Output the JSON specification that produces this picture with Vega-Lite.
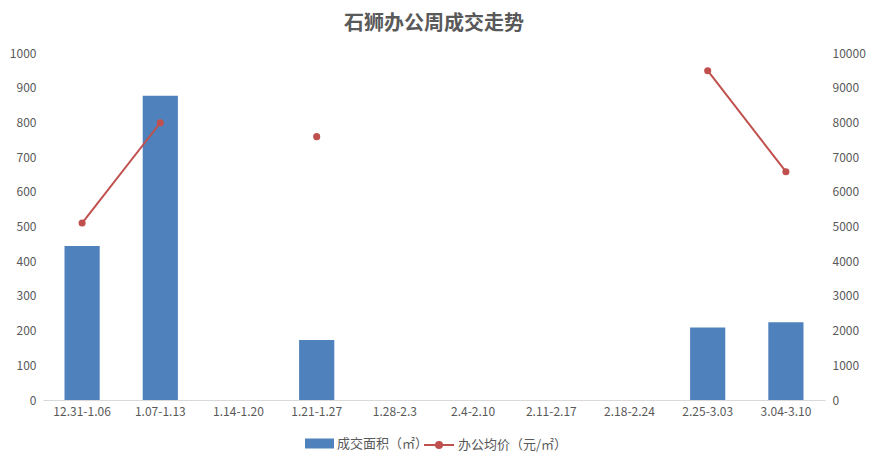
{
  "$schema": "https://vega.github.io/schema/vega-lite/v6.json",
  "width": 782,
  "height": 347,
  "autosize": "none",
  "padding": {"left": 43, "top": 53, "right": 51, "bottom": 67},
  "background": "white",
  "title": {
    "text": "石狮办公周成交走势",
    "font": "Noto Sans CJK SC",
    "fontSize": 20,
    "fontWeight": "bold",
    "color": "#595959",
    "anchor": "middle",
    "offset": 13
  },
  "config": {
    "view": {"stroke": null},
    "font": "Noto Sans CJK SC",
    "axis": {
      "labelFont": "Noto Sans CJK SC",
      "labelFontSize": 12,
      "labelColor": "#595959",
      "grid": false,
      "ticks": false,
      "title": null
    },
    "legend": {
      "labelFont": "Noto Sans CJK SC",
      "labelFontSize": 13,
      "labelColor": "#595959",
      "title": null,
      "labelOffset": 3
    }
  },
  "data": {
    "values": [
      {"week": "12.31-1.06", "area": 444, "price": 5100, "seg": "a"},
      {"week": "1.07-1.13", "area": 877, "price": 7990, "seg": "a"},
      {"week": "1.14-1.20", "area": null, "price": null, "seg": null},
      {"week": "1.21-1.27", "area": 173, "price": 7590, "seg": "b"},
      {"week": "1.28-2.3", "area": null, "price": null, "seg": null},
      {"week": "2.4-2.10", "area": null, "price": null, "seg": null},
      {"week": "2.11-2.17", "area": null, "price": null, "seg": null},
      {"week": "2.18-2.24", "area": null, "price": null, "seg": null},
      {"week": "2.25-3.03", "area": 209, "price": 9490, "seg": "c"},
      {"week": "3.04-3.10", "area": 224, "price": 6580, "seg": "c"}
    ]
  },
  "encoding": {
    "x": {
      "field": "week",
      "type": "nominal",
      "sort": null,
      "scale": {
        "domain": ["12.31-1.06", "1.07-1.13", "1.14-1.20", "1.21-1.27", "1.28-2.3", "2.4-2.10", "2.11-2.17", "2.18-2.24", "2.25-3.03", "3.04-3.10"],
        "paddingInner": 0.55,
        "paddingOuter": 0.275
      },
      "axis": {"labelAngle": 0, "domainColor": "#d9d9d9", "labelPadding": 6}
    }
  },
  "layer": [
    {
      "transform": [{"filter": "isValid(datum.area)"}],
      "mark": {"type": "bar"},
      "encoding": {
        "y": {
          "field": "area",
          "type": "quantitative",
          "scale": {"domain": [0, 1000]},
          "axis": {"values": [0,100,200,300,400,500,600,700,800,900,1000], "format": "d", "domain": false, "labelPadding": 7}
        },
        "fill": {
          "datum": "成交面积（㎡）",
          "scale": {"range": ["#4F81BD"]},
          "legend": {
            "orient": "none",
            "legendX": 262,
            "legendY": 376,
            "symbolType": "M-1,-0.345H1V0.345H-1Z",
            "symbolSize": 841,
            "symbolStrokeWidth": 0
          }
        }
      }
    },
    {
      "transform": [{"filter": "isValid(datum.price)"}],
      "mark": {"type": "line", "strokeWidth": 2},
      "encoding": {
        "detail": {"field": "seg", "type": "nominal"},
        "y": {
          "field": "price",
          "type": "quantitative",
          "scale": {"domain": [0, 10000]},
          "axis": {"orient": "right", "values": [0,1000,2000,3000,4000,5000,6000,7000,8000,9000,10000], "format": "d", "domain": false, "labelPadding": 7}
        },
        "stroke": {
          "datum": "办公均价（元/㎡）",
          "scale": {"range": ["#C0504D"]},
          "legend": {
            "orient": "none",
            "legendX": 380,
            "legendY": 376,
            "symbolType": "M-1,0H1M-0.2,0A0.2,0.2 0 1,0 0.2,0A0.2,0.2 0 1,0 -0.2,0",
            "symbolSize": 900,
            "symbolStrokeWidth": 2,
            "symbolFillColor": "#C0504D"
          }
        }
      }
    },
    {
      "transform": [{"filter": "isValid(datum.price)"}],
      "mark": {"type": "point", "filled": true, "size": 50, "color": "#C0504D", "opacity": 1},
      "encoding": {
        "y": {"field": "price", "type": "quantitative", "scale": {"domain": [0, 10000]}, "axis": null}
      }
    }
  ],
  "resolve": {"scale": {"y": "independent", "fill": "independent", "stroke": "independent"}}
}
